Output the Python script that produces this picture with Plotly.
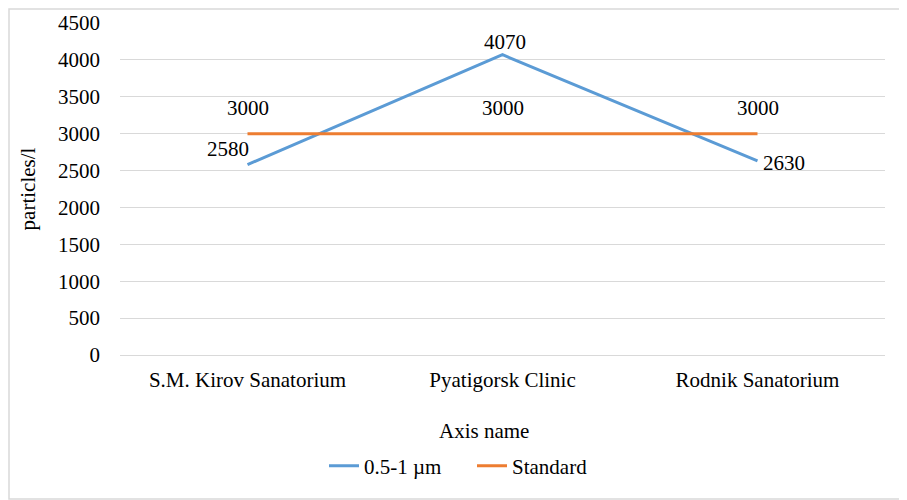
import plotly.graph_objects as go

sites = ["S.M. Kirov Sanatorium", "Pyatigorsk Clinic", "Rodnik Sanatorium"]
particles = [2580, 4070, 2630]
standard = [3000, 3000, 3000]
y_ticks = [0, 500, 1000, 1500, 2000, 2500, 3000, 3500, 4000, 4500]

FONT = "Liberation Serif, serif"
FS = 21
# the page body has an 8px margin, so the figure is shrunk to fit the window
PAD = 8
W, H = 907 - PAD, 500 - PAD
L, R, T, B = 120 - PAD, 22, 23 - PAD, 145
pw = W - L - R
ph = H - T - B

fig = go.Figure()
fig.add_trace(go.Scatter(
    x=sites, y=particles, name="0.5-1 µm",
    mode="lines",
    line=dict(color="#5B9BD5", width=3),
))
fig.add_trace(go.Scatter(
    x=sites, y=standard, name="Standard",
    mode="lines",
    line=dict(color="#ED7D31", width=3),
))

# data labels, offsets tuned to the reference placement
blue_pos = [
    dict(xanchor="right", yanchor="bottom", xshift=3, yshift=2),
    dict(xanchor="center", yanchor="middle", xshift=2, yshift=13),
    dict(xanchor="left", yanchor="middle", xshift=3, yshift=-2),
]
for site, val, pos in zip(sites, particles, blue_pos):
    fig.add_annotation(x=site, y=val, text=str(val), showarrow=False,
                       font=dict(family=FONT, size=FS, color="black"), **pos)
for site, val in zip(sites, standard):
    fig.add_annotation(x=site, y=val, text=str(val), showarrow=False,
                       xanchor="center", yanchor="middle", yshift=26,
                       font=dict(family=FONT, size=FS, color="black"))

# x axis title sits a bit left of the plot centre in the original
fig.add_annotation(x=(484 - 120) / pw, xref="paper", y=-(431 - 355) / ph,
                   yref="paper", text="Axis name", showarrow=False,
                   xanchor="center", yanchor="middle",
                   font=dict(family=FONT, size=FS, color="black"))

# outer chart border
fig.add_shape(
    type="rect", xref="paper", yref="paper",
    x0=-(L - 1) / pw, x1=1 + (R - 1) / pw,
    y0=-(B - 1) / ph, y1=1 + (T - 1) / ph,
    line=dict(color="#D9D9D9", width=1.5),
)

fig.update_layout(
    width=W, height=H,
    margin=dict(l=L, r=R, t=T, b=B, autoexpand=False),
    paper_bgcolor="white", plot_bgcolor="white",
    font=dict(family=FONT, size=FS, color="black"),
    showlegend=True,
    legend=dict(
        orientation="h", x=(472 - 120) / pw, xanchor="center",
        y=-(466 - 355) / ph, yanchor="middle",
        font=dict(family=FONT, size=FS), entrywidth=103, tracegroupgap=0,
        bgcolor="rgba(0,0,0,0)",
    ),
    xaxis=dict(
        showgrid=False, showline=True, linecolor="#D9D9D9", linewidth=1,
        ticks="", tickfont=dict(family=FONT, size=FS), automargin=False,
        ticklabelstandoff=6,
        range=[-0.5, 2.5],
    ),
    yaxis=dict(
        title=dict(text="particles/l", standoff=16, font=dict(family=FONT, size=FS)),
        range=[0, 4500], tickvals=y_ticks,
        showgrid=True, gridcolor="#D9D9D9", gridwidth=1,
        zeroline=False, showline=False, ticks="", automargin=False,
        tickfont=dict(family=FONT, size=FS), ticklabelstandoff=19,
    ),
)

fig.write_html("out.html")
